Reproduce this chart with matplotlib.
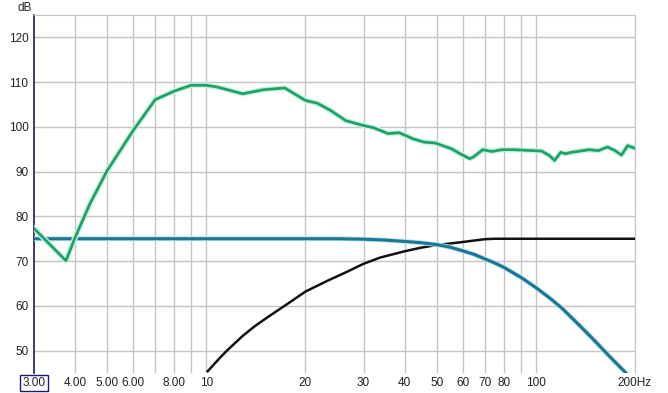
import matplotlib
matplotlib.use('Agg')
import matplotlib.pyplot as plt
import matplotlib.patheffects as pe
from matplotlib.ticker import FixedLocator, NullLocator

# measured response (green)
freq_spl = [3.0, 3.75, 4.0, 4.44, 5.0, 6.0, 7.0, 8.0, 9.0, 10.0, 10.8, 12.9, 14.9, 17.3,
            20.0, 21.7, 23.8, 26.5, 30.0, 32.2, 35.6, 38.5, 42.5, 45.8, 49.5, 55.5, 58.9,
            63.0, 64.5, 69.0, 73.5, 79.0, 86.0, 104.0, 110.0, 114.0, 119.0, 123.0, 128.0,
            145.0, 155.0, 165.0, 174.0, 182.0, 190.0, 200.0]
spl_db = [77.3, 70.1, 75.3, 82.9, 90.2, 99.2, 106.1, 108.0, 109.3, 109.3, 108.9, 107.4,
          108.3, 108.7, 105.9, 105.3, 103.7, 101.4, 100.3, 99.8, 98.5, 98.7, 97.3, 96.6,
          96.4, 95.1, 94.0, 92.9, 93.2, 94.9, 94.5, 94.9, 94.9, 94.6, 93.6, 92.5, 94.3,
          94.0, 94.3, 94.9, 94.7, 95.5, 94.7, 93.7, 95.8, 95.2]

# low-pass target (blue)
freq_lp = [3.0, 20.0, 25.0, 30.0, 35.0, 40.0, 45.0, 50.0, 55.0, 60.0, 65.0, 70.0, 75.0,
           80.0, 90.0, 100.0, 110.0, 120.0, 135.0, 150.0, 170.0, 185.0, 200.0]
lp_db = [75.0, 75.0, 75.0, 74.9, 74.7, 74.4, 74.1, 73.7, 73.1, 72.3, 71.5, 70.5, 69.6,
         68.6, 66.4, 64.1, 61.8, 59.5, 55.8, 52.4, 48.2, 45.5, 42.8]

# high-pass target (black)
freq_hp = [10.1, 11.0, 11.55, 12.9, 14.0, 15.3, 17.6, 20.0, 23.3, 26.7, 30.0, 33.7, 40.0,
           44.8, 50.0, 58.9, 65.0, 70.0, 75.0, 200.0]
hp_db = [45.4, 48.4, 50.0, 53.3, 55.4, 57.4, 60.4, 63.2, 65.6, 67.6, 69.4, 70.8, 72.2,
         73.0, 73.6, 74.2, 74.6, 74.9, 75.0, 75.0]

x_ticks = [3, 4, 5, 6, 8, 10, 20, 30, 40, 50, 60, 70, 80, 100, 200]
x_labels = ['3.00', '4.00', '5.00', '6.00', '8.00', '10', '20', '30', '40', '50', '60',
            '70', '80', '100', '200Hz']
x_grid = [4, 5, 6, 7, 8, 9, 10, 20, 30, 40, 50, 60, 70, 80, 90, 100, 200]
y_ticks = [50, 60, 70, 80, 90, 100, 110, 120]

plt.rcParams['font.family'] = ['Liberation Sans', 'DejaVu Sans']

fig = plt.figure(figsize=(6.68, 3.93), dpi=100)
ax = fig.add_axes([34 / 668, 20 / 393, 601 / 668, 358 / 393])
ax.set_xscale('log')
ax.set_xlim(3, 200)
ax.set_ylim(45, 125)

for g in x_grid:
    ax.axvline(g, color='#c4c4c4', lw=1, zorder=1)
for g in y_ticks:
    ax.axhline(g, color='#c4c4c4', lw=1, zorder=1)

glow = [pe.Stroke(linewidth=4, foreground='#c8f5dc'), pe.Normal()]
ax.plot(freq_hp, hp_db, color='#111111', lw=1.8, zorder=3)
ax.plot(freq_lp, lp_db, color='#1d7592', lw=2.2, zorder=4,
        path_effects=[pe.Stroke(linewidth=3.5, foreground='#b8e4f0'), pe.Normal()])
ax.plot(freq_spl, spl_db, color='#22a06b', lw=2, zorder=5, path_effects=glow)

ax.xaxis.set_major_locator(FixedLocator(x_ticks))
ax.xaxis.set_minor_locator(NullLocator())
ax.set_xticklabels(x_labels)
ax.set_yticks(y_ticks)
ax.tick_params(axis='both', length=0, labelsize=8.5, colors='#222222')
ax.tick_params(axis='x', pad=3)
ax.tick_params(axis='y', pad=4)

# box round the first frequency label
for lab in ax.get_xticklabels():
    if lab.get_text() == '3.00':
        lab.set_bbox(dict(facecolor='white', edgecolor='#1a1a6e', lw=1, pad=1.6))

ax.spines['left'].set_color('#1a1a5e')
ax.spines['left'].set_linewidth(1.2)
ax.spines['bottom'].set_visible(False)
ax.spines['top'].set_color('#c4c4c4')
ax.spines['right'].set_color('#c4c4c4')

fig.text(18 / 668, 1 - 8 / 393, 'dB', fontsize=8.5, color='#222222', va='center')

fig.savefig('out.png', dpi=100)
